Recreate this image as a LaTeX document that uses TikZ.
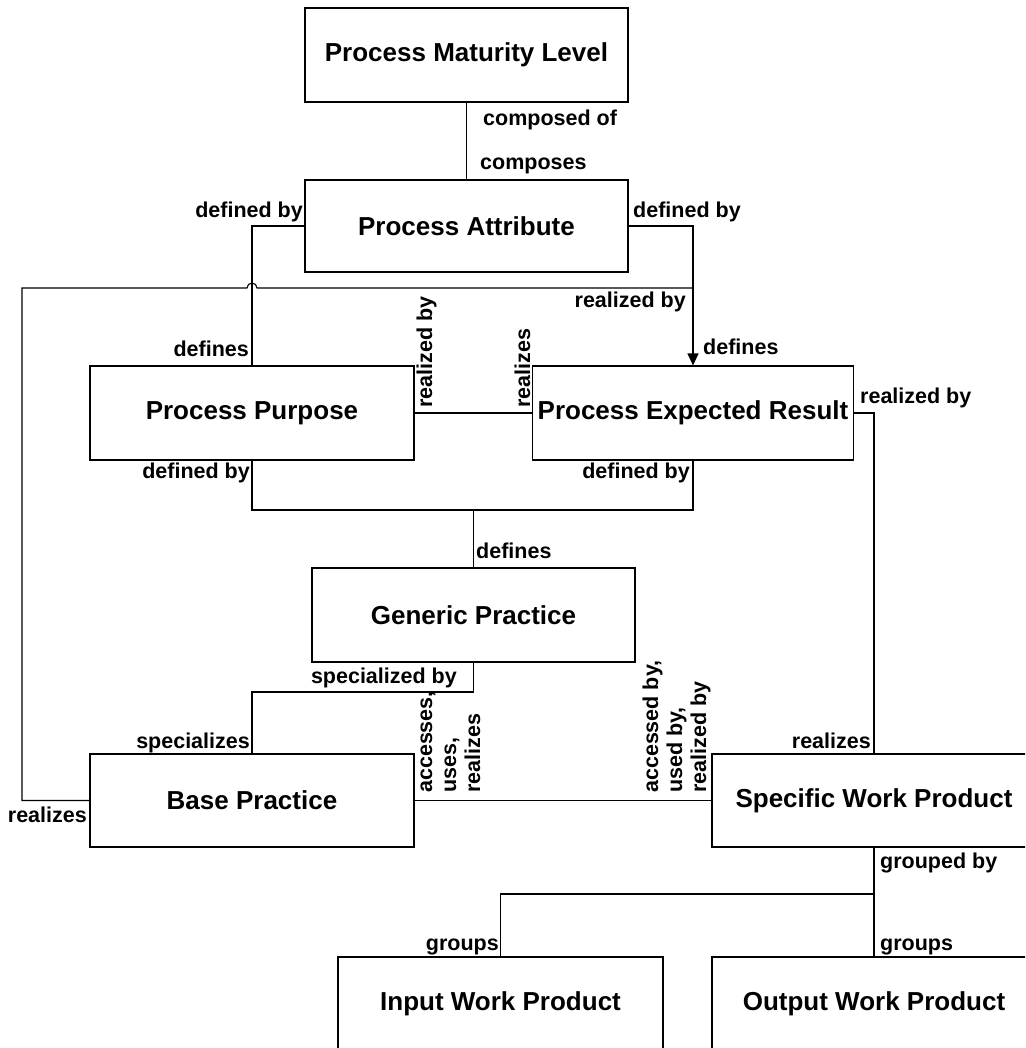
\documentclass[tikz,border=0pt]{standalone}
\usepackage{fontspec}
\setmainfont{Liberation Sans}
\usetikzlibrary{arrows.meta}
\begin{document}
\begin{tikzpicture}[x=1pt,y=-1pt,
  entity/.style={draw, line width=1.1pt, inner sep=0pt, minimum height=94pt,
    font=\fontsize{26}{30}\selectfont\bfseries},
  rolelbl/.style={inner sep=0pt, font=\fontsize{21.5}{24}\selectfont\bfseries},
  vlbl/.style={rolelbl, rotate=90, anchor=base west},
  link/.style={line width=1.1pt}]
\useasboundingbox (0,0) rectangle (1025,1048);
\clip (0,0) rectangle (1025,1048);

% entities
\node[entity, minimum width=323pt] (pml) at (466.5,55) {Process Maturity Level};
\node[entity, minimum width=323pt, minimum height=92pt] (pa) at (466.5,226) {Process Attribute};
\node[entity, minimum width=324pt] (pp) at (252,413) {Process Purpose};
\node[entity, minimum width=321pt] (per) at (693,413) {Process Expected Result};
\node[entity, minimum width=323pt] (gp) at (473.5,615) {Generic Practice};
\node[entity, minimum width=324pt, minimum height=93pt] (bp) at (252,800.5) {Base Practice};
\node[entity, minimum width=324pt, minimum height=93pt] (swp) at (874,800.5) {Specific Work Product};
\node[entity, minimum width=325pt] (iwp) at (500.5,1004) {Input Work Product};
\node[entity, minimum width=324pt] (owp) at (874,1004) {Output Work Product};

% routing points
\coordinate (jn) at (473.5,510);
\coordinate (sp) at (473.5,692);
\coordinate (sg) at (874,894);
\coordinate (ra) at (22,288);
\coordinate (rb) at (693,288);

% connectors
\draw[link] (pml.south) -- (pa.north);
\draw[link] (pa.west) -| (pp.north);
\draw[link, -{Triangle[width=11pt,length=12pt]}] (pa.east) -| (per.north);
\draw[link] (bp.west) -| (ra) -- (247,288) arc[start angle=180, end angle=0, radius=5pt] -- (rb);
\draw[link] (pp.east) -- (per.west);
\draw[link] (pp.south) |- (jn) -| (per.south);
\draw[link] (gp.north) -- (jn);
\draw[link] (gp.south) -- (sp) -| (bp.north);
\draw[link] (bp.east) -- (swp.west);
\draw[link] (per.east) -| (swp.north);
\draw[link] (swp.south) -- (owp.north);
\draw[link] (sg) -| (iwp.north);

% role labels
\node[rolelbl, anchor=base west] (l1) at (483,126) {composed of};
\node[rolelbl, anchor=base west] (l2) at (480,170) {composes};
\node[rolelbl, anchor=base east] (l3) at (303,218) {defined by};
\node[rolelbl, anchor=base west] (l4) at (633,218) {defined by};
\node[rolelbl, anchor=base east] (l5) at (686,307) {realized by};
\node[rolelbl, anchor=base west] (l6) at (703,354) {defines};
\node[rolelbl, anchor=base east] (l7) at (249,356) {defines};
\node[vlbl] (l8) at (432,408) {realized by};
\node[vlbl] (l9) at (530,408) {realizes};
\node[rolelbl, anchor=base west] (l10) at (860,403) {realized by};
\node[rolelbl, anchor=base east] (l11) at (250,478) {defined by};
\node[rolelbl, anchor=base east] (l12) at (690,478) {defined by};
\node[rolelbl, anchor=base west] (l13) at (476,558) {defines};
\node[rolelbl, anchor=base east] (l14) at (457,683) {specialized by};
\node[rolelbl, anchor=base east] (l15) at (250,748) {specializes};
\node[rolelbl, anchor=base east] (l16) at (87,822) {realizes};
\node[vlbl] (l17) at (432,793) {accesses,};
\node[vlbl] (l18) at (456,793) {uses,};
\node[vlbl] (l19) at (480,793) {realizes};
\node[vlbl] (l20) at (658,793) {accessed by,};
\node[vlbl] (l21) at (682,793) {used by,};
\node[vlbl] (l22) at (706,793) {realized by};
\node[rolelbl, anchor=base east] (l23) at (871,748) {realizes};
\node[rolelbl, anchor=base west] (l24) at (880,868) {grouped by};
\node[rolelbl, anchor=base east] (l25) at (499,950) {groups};
\node[rolelbl, anchor=base west] (l26) at (880,950) {groups};
\end{tikzpicture}
\end{document}
